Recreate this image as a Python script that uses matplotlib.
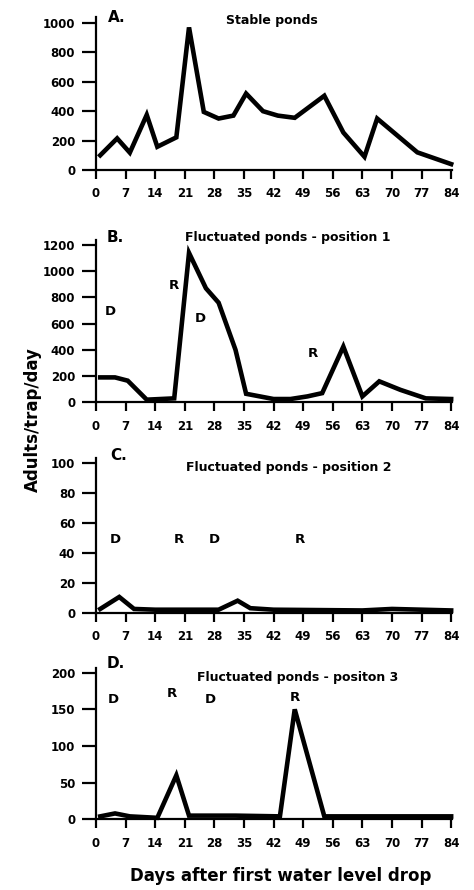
import matplotlib
matplotlib.use("Agg")
import matplotlib.pyplot as plt

plt.rcParams['font.family'] = ['DejaVu Sans']
plt.rcParams['font.weight'] = 'bold'

# ---------------- data ----------------
xticks = [0, 7, 14, 21, 28, 35, 42, 49, 56, 63, 70, 77, 84]

A_days = [1, 5, 8, 12, 14.5, 19, 22, 25.5, 29, 32.5, 35.5, 39.5, 43, 47, 54, 58.5, 63.5, 66.5, 76, 84]
A_vals = [100, 215, 118, 375, 158, 222, 970, 395, 350, 370, 520, 400, 370, 355, 505, 255, 90, 350, 120, 40]

B_days = [1, 4.5, 7.5, 12, 18.5, 22, 26, 29, 33, 35.5, 42, 46, 50, 53.5, 58.5, 63, 67, 72, 78, 84]
B_vals = [190, 190, 165, 20, 30, 1140, 870, 760, 400, 65, 25, 25, 45, 70, 425, 45, 160, 95, 30, 25]

C_days = [1, 5.5, 9, 14, 29, 33.5, 36.5, 42, 63, 70, 84]
C_vals = [2.5, 10.5, 2.5, 2, 2, 8, 3, 2, 1.5, 2.5, 1.5]

D_days = [1, 4.5, 8, 14.5, 19, 22, 33, 43.5, 47, 54, 84]
D_vals = [4, 8, 4, 2, 60, 5, 5, 4, 150, 4, 4]

A_yticks = [0, 200, 400, 600, 800, 1000]
B_yticks = [0, 200, 400, 600, 800, 1000, 1200]
C_yticks = [0, 20, 40, 60, 80, 100]
D_yticks = [0, 50, 100, 150, 200]

B_marks = [(3.3, 690, 'D'), (18.5, 895, 'R'), (24.6, 640, 'D'), (51.4, 375, 'R')]
C_marks = [(4.5, 49, 'D'), (19.6, 49, 'R'), (28.0, 49, 'D'), (48.3, 49, 'R')]
D_marks = [(4.0, 164, 'D'), (18.0, 172, 'R'), (27.0, 164, 'D'), (47.0, 166, 'R')]

panels = [
    dict(days=A_days, vals=A_vals, yticks=A_yticks, ylim=1040, letter='A.', title='Stable ponds',
         letter_pos=(2.9, 1034), title_pos=(41.6, 1020), marks=[],
         px=(170, 17.1)),
    dict(days=B_days, vals=B_vals, yticks=B_yticks, ylim=1240, letter='B.', title='Fluctuated ponds - position 1',
         letter_pos=(2.4, 1258), title_pos=(45.4, 1258), marks=B_marks,
         px=(402.3, 239.8)),
    dict(days=C_days, vals=C_vals, yticks=C_yticks, ylim=103, letter='C.', title='Fluctuated ponds - position 2',
         letter_pos=(3.3, 105), title_pos=(45.7, 97), marks=C_marks,
         px=(612.7, 458.2)),
    dict(days=D_days, vals=D_vals, yticks=D_yticks, ylim=206, letter='D.', title='Fluctuated ponds - positon 3',
         letter_pos=(2.6, 213), title_pos=(47.6, 194), marks=D_marks,
         px=(819.3, 668.3)),
]

W, H = 474, 890
fig = plt.figure(figsize=(W / 100, H / 100), dpi=100)

x0, x1 = 96, 452
for p in panels:
    bot, top = p['px']
    ax = fig.add_axes([x0 / W, 1 - bot / H, (x1 - x0) / W, (bot - top) / H])
    ax.plot(p['days'], p['vals'], color='black', lw=3.3, solid_joinstyle='miter', clip_on=False)
    ax.set_xlim(0, 84.2)
    ax.set_ylim(0, p['ylim'])
    ax.set_xticks(xticks)
    ax.set_xticklabels([str(t) for t in xticks])
    ax.set_yticks(p['yticks'])
    ax.set_yticklabels([str(t) for t in p['yticks']])
    for s in ['top', 'right']:
        ax.spines[s].set_visible(False)
    for s in ['left', 'bottom']:
        ax.spines[s].set_linewidth(1.6)
    ax.tick_params(axis='x', direction='out', length=6.5, width=1.6, pad=6, labelsize=8.5)
    ax.tick_params(axis='y', direction='out', length=10, width=1.6, pad=5, labelsize=8.5)
    for lab in ax.get_xticklabels() + ax.get_yticklabels():
        lab.set_fontweight('bold')
    ax.text(p['letter_pos'][0], p['letter_pos'][1], p['letter'], fontsize=11, fontweight='bold',
            ha='left', va='center', clip_on=False)
    ax.text(p['title_pos'][0], p['title_pos'][1], p['title'], fontsize=9, fontweight='bold',
            ha='center', va='center', clip_on=False)
    for (d, v, s) in p['marks']:
        ax.text(d, v, s, fontsize=9.5, fontweight='bold', ha='center', va='center')

fig.text(33 / W, 1 - 420 / H, 'Adults/trap/day', rotation=90, fontsize=12, fontweight='bold',
         ha='center', va='center')
fig.text(281 / W, 1 - 876 / H, 'Days after first water level drop', fontsize=12, fontweight='bold',
         ha='center', va='center')

fig.savefig('out.png', dpi=100)
